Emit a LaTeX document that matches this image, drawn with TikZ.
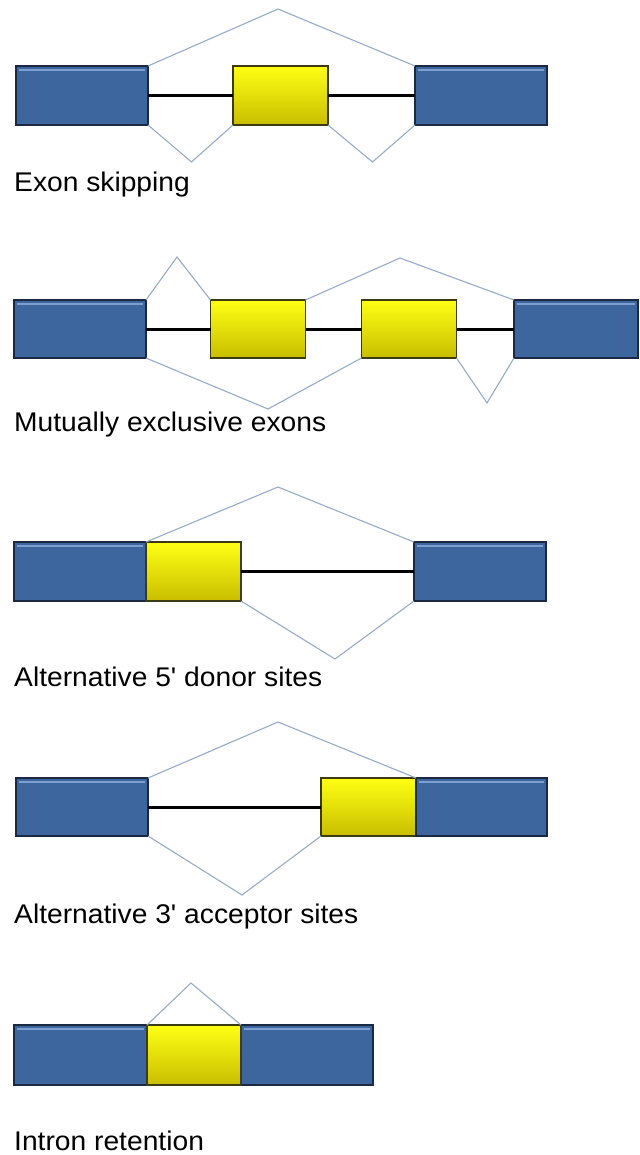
\documentclass[tikz,border=0pt]{standalone}
\usepackage{fontspec}
\setmainfont[FakeStretch=1.045, Ligatures=TeXOff]{Liberation Sans}
\begin{document}
\begin{tikzpicture}[x=1pt,y=-1pt,
  boxbase/.style={rectangle, anchor=north west, inner sep=0pt, outer sep=0pt, line width=1.6pt},
  bluebox/.style={boxbase, draw=BoxEdge, fill=ExonBlue,
    path picture={\draw[HiBlue, line width=1.3pt]
      ([shift={(3pt,-4pt)}]path picture bounding box.north west) --
      ([shift={(-3pt,-4pt)}]path picture bounding box.north east);}},
  yellowbox/.style={boxbase, draw=YellowEdge, top color=TopYellow, middle color=yellow, bottom color=LowYellow},
  splice/.style={draw=SpliceBlue, line width=1.1pt, line join=miter},
  intron/.style={draw=black, line width=3pt},
  label/.style={anchor=base west, inner sep=0pt, font=\fontsize{27}{32}\selectfont}
]
\definecolor{ExonBlue}{RGB}{61,102,158}
\definecolor{BoxEdge}{RGB}{26,40,66}
\definecolor{HiBlue}{RGB}{125,160,208}
\definecolor{TopYellow}{RGB}{255,255,20}
\definecolor{LowYellow}{RGB}{200,190,0}
\definecolor{YellowEdge}{RGB}{60,60,20}
\definecolor{SpliceBlue}{RGB}{150,172,200}
\useasboundingbox[fill=white] (0,0) rectangle (639,1155);

% ---------- Exon skipping ----------
\node[bluebox, minimum width=132pt, minimum height=59pt] (b1a) at (16,66) {};
\node[yellowbox, minimum width=95pt, minimum height=59pt] (y1) at (233,66) {};
\node[bluebox, minimum width=132pt, minimum height=59pt] (b1b) at (415,66) {};
\coordinate (p1t) at (278,9);
\coordinate (p1l) at (191.5,162);
\coordinate (p1r) at (372.5,162);
\draw[intron] (b1a.east) -- (y1.west);
\draw[intron] (y1.east) -- (b1b.west);
\draw[splice] (b1a.north east) -- (p1t) -- (b1b.north west);
\draw[splice] (b1a.south east) -- (p1l) -- (y1.south west);
\draw[splice] (y1.south east) -- (p1r) -- (b1b.south west);
\node[label] (t1) at (14,192) {Exon skipping};

% ---------- Mutually exclusive exons ----------
\node[bluebox, minimum width=132pt, minimum height=58pt] (b2a) at (14,300) {};
\node[yellowbox, minimum width=95pt, minimum height=58pt] (y2a) at (210.5,300) {};
\node[yellowbox, minimum width=95pt, minimum height=58pt] (y2b) at (361.5,300) {};
\node[bluebox, minimum width=124pt, minimum height=58pt] (b2b) at (514,300) {};
\coordinate (p2a) at (177,257);
\coordinate (p2b) at (400,258);
\coordinate (p2c) at (268,409);
\coordinate (p2d) at (487,403);
\draw[intron] (b2a.east) -- (y2a.west);
\draw[intron] (y2a.east) -- (y2b.west);
\draw[intron] (y2b.east) -- (b2b.west);
\draw[splice] (b2a.north east) -- (p2a) -- (y2a.north west);
\draw[splice] (y2a.north east) -- (p2b) -- (b2b.north west);
\draw[splice] (b2a.south east) -- (p2c) -- (y2b.south west);
\draw[splice] (y2b.south east) -- (p2d) -- (b2b.south west);
\node[label] (t2) at (14,431) {Mutually exclusive exons};

% ---------- Alternative 5' donor sites ----------
\node[bluebox, minimum width=132pt, minimum height=59pt] (b3a) at (14,542) {};
\node[yellowbox, minimum width=95pt, minimum height=59pt] (y3) at (146,542) {};
\node[bluebox, minimum width=132pt, minimum height=59pt] (b3b) at (414,542) {};
\coordinate (p3t) at (278,487);
\coordinate (p3b) at (335,659);
\draw[intron] (y3.east) -- (b3b.west);
\draw[splice] (b3a.north east) -- (p3t) -- (b3b.north west);
\draw[splice] (y3.south east) -- (p3b) -- (b3b.south west);
\node[label] (t3) at (14,686) {Alternative 5' donor sites};

% ---------- Alternative 3' acceptor sites ----------
\node[bluebox, minimum width=132pt, minimum height=58pt] (b4a) at (16,778) {};
\node[yellowbox, minimum width=95pt, minimum height=58pt] (y4) at (321,778) {};
\node[bluebox, minimum width=131pt, minimum height=58pt] (b4b) at (416,778) {};
\coordinate (p4t) at (278,722);
\coordinate (p4b) at (242,895);
\draw[intron] (b4a.east) -- (y4.west);
\draw[splice] (b4a.north east) -- (p4t) -- (b4b.north west);
\draw[splice] (b4a.south east) -- (p4b) -- (y4.south west);
\node[label] (t4) at (14,923) {Alternative 3' acceptor sites};

% ---------- Intron retention ----------
\node[bluebox, minimum width=133pt, minimum height=60pt] (b5a) at (14,1025) {};
\node[bluebox, minimum width=132pt, minimum height=60pt] (b5b) at (241,1025) {};
\node[yellowbox, minimum width=94pt, minimum height=60pt] (y5) at (147,1025) {};
\coordinate (p5t) at (191,983);
\draw[splice] (y5.north west) -- (p5t) -- (y5.north east);
\node[label] (t5) at (14,1150) {Intron retention};
\end{tikzpicture}
\end{document}
